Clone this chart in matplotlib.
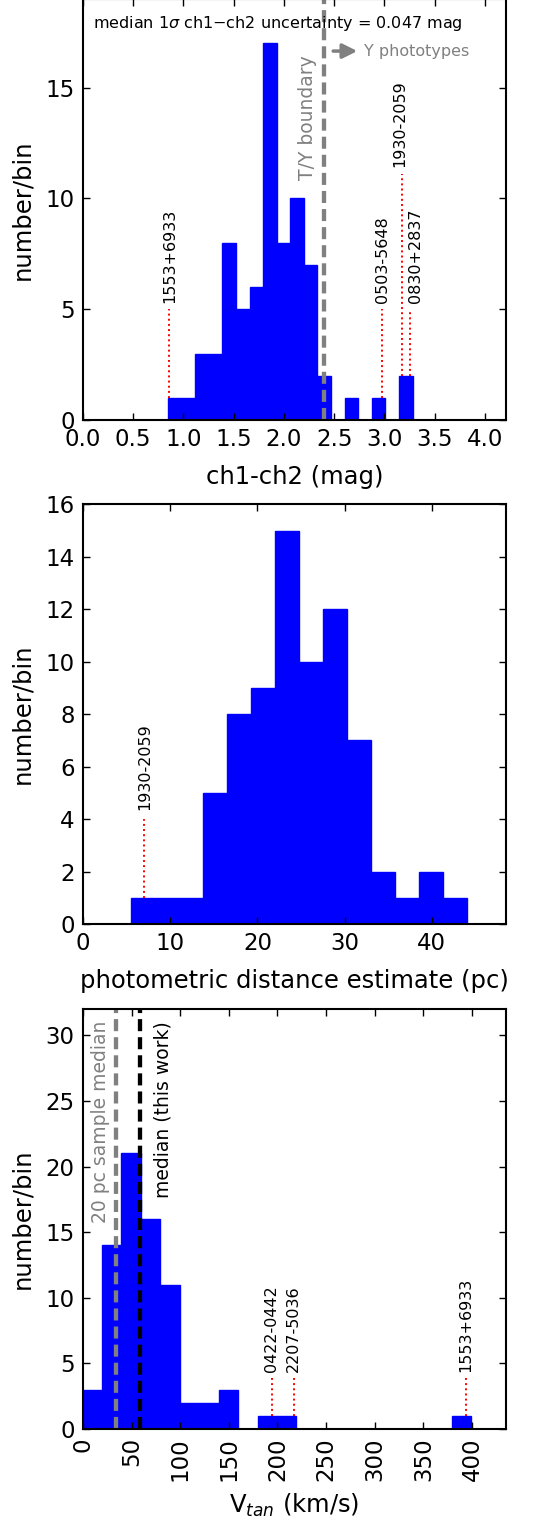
import numpy as np
import matplotlib
matplotlib.use("Agg")
import matplotlib.pyplot as plt

plt.rcParams["font.family"] = "DejaVu Sans"
plt.rcParams["mathtext.fontset"] = "dejavusans"
plt.rcParams["axes.linewidth"] = 1.5

#####################
### Data
#####################
# ch1-ch2 colour histogram (30 bins)
color_start = -0.1
color_width = 0.1352
color_counts = [0, 0, 0, 0, 0, 0, 0, 1, 1, 3, 3, 8, 5, 6, 17, 8,
                10, 7, 2, 0, 1, 0, 1, 0, 2, 0, 0, 0, 0, 0]
color_names = ["1553+6933", "0503-5648", "1930-2059", "0830+2837"]
color_obj = [0.86, 2.98, 3.17, 3.255]
color_obj_n = [1, 1, 2, 2]
color_line_top = [5, 5, 11.1, 5]
ty_boundary = 2.4
median_err = 0.047

# photometric distance histogram
dist_start = -0.06
dist_width = 2.755
dist_counts = [0, 0, 1, 1, 1, 5, 8, 9, 15, 10, 12, 7, 2, 1, 2, 1, 0, 0]
dist_names = ["1930-2059"]
dist_obj = [7.03]
dist_obj_n = [1]
dist_line_top = [4]

# tangential velocity histogram
vtan_start = -0.5
vtan_width = 20.0
vtan_counts = [3, 14, 21, 16, 11, 2, 2, 3, 0, 1, 1,
               0, 0, 0, 0, 0, 0, 0, 0, 1, 0, 0]
vtan_names = ["0422-0442", "2207-5036", "1553+6933"]
vtan_obj = [194, 216.5, 394]
vtan_obj_n = [1, 1, 1]
vtan_line_top = [3.9, 3.9, 3.9]
vtan_median_20pc = 34
vtan_median_this = 59


#####################
### Functions
#####################
def draw_hist(ax, start, width, counts):
    edges = start + width * np.arange(len(counts) + 1)
    centers = 0.5 * (edges[:-1] + edges[1:])
    ax.hist(centers, bins=edges, weights=counts, histtype="bar",
            color="blue", edgecolor="blue", linewidth=1.0)


def mark_objects(ax, names, xs, ns, tops, dy, dx=None):
    for i in range(len(names)):
        ax.plot([xs[i], xs[i]], [ns[i], tops[i]], color="red",
                linestyle=":", lw=1.4)
        xt = xs[i] if dx is None else xs[i] + dx[i]
        ax.text(xt, tops[i] + dy, names[i], rotation=90, ha="center",
                va="bottom", fontsize=11.5)


def style_axes(ax):
    ax.tick_params(direction="in", top=True, right=True, length=5,
                   width=1, labelsize=16.5, pad=6)
    ax.minorticks_off()


#####################
### Plot
#####################
W, H = 546, 1521
fig = plt.figure(figsize=(W / 100, H / 100), dpi=100)
left = 83 / W
width = 423 / W

# ax1 : ch1-ch2
ax1 = fig.add_axes([left, 1 - 420 / H, width, 421 / H])
draw_hist(ax1, color_start, color_width, color_counts)
mark_objects(ax1, color_names, color_obj, color_obj_n, color_line_top, 0.3,
             dx=[0, 0, -0.02, 0.05])
ax1.axvline(ty_boundary, color="gray", lw=3.1, dashes=(2.8, 1.4))
ax1.text(2.23, 10.85, "T/Y boundary", rotation=90, ha="center", va="bottom",
         fontsize=13.5, color="gray")
ax1.annotate("", xy=(2.73, 16.65), xytext=(2.49, 16.65),
             arrowprops=dict(arrowstyle="-|>", color="gray", lw=2.5,
                             mutation_scale=22, shrinkA=0, shrinkB=0))
ax1.text(2.80, 16.65, "Y phototypes", ha="left", va="center",
         fontsize=11.5, color="gray")
ax1.text(0.1, 17.9, "median 1$\\sigma$ ch1$-$ch2 uncertainty = %.3f mag" % median_err,
         ha="left", va="center", fontsize=11.5)
ax1.set_xlim([0, 4.21])
ax1.set_ylim([0, 19])
ax1.set_xticks(np.arange(0, 4.01, 0.5))
ax1.set_xticklabels(["%.1f" % v for v in np.arange(0, 4.01, 0.5)])
ax1.set_yticks([0, 5, 10, 15])
ax1.set_xlabel("ch1-ch2 (mag)", fontsize=17.5, labelpad=10)
ax1.set_ylabel("number/bin", fontsize=17.5, labelpad=8)
style_axes(ax1)

# ax2 : photometric distance
ax2 = fig.add_axes([left, 1 - 924 / H, width, (924 - 504.3) / H])
draw_hist(ax2, dist_start, dist_width, dist_counts)
mark_objects(ax2, dist_names, dist_obj, dist_obj_n, dist_line_top, 0.35)
ax2.set_xlim([0, 48.5])
ax2.set_ylim([0, 16])
ax2.set_xticks([0, 10, 20, 30, 40])
ax2.set_yticks(np.arange(0, 17, 2))
ax2.set_xlabel("photometric distance estimate (pc)", fontsize=17.5, labelpad=10)
ax2.set_ylabel("number/bin", fontsize=17.5, labelpad=8)
style_axes(ax2)

# ax3 : Vtan
ax3 = fig.add_axes([left, 1 - 1429 / H, width, 420 / H])
draw_hist(ax3, vtan_start, vtan_width, vtan_counts)
mark_objects(ax3, vtan_names, vtan_obj, vtan_obj_n, vtan_line_top, 0.45)
ax3.axvline(vtan_median_20pc, color="gray", lw=3.1, dashes=(2.8, 1.4))
ax3.axvline(vtan_median_this, color="black", lw=3.1, dashes=(2.8, 1.4))
ax3.text(27.5, 31.1, "20 pc sample median", rotation=90, ha="right", va="top",
         fontsize=13.5, color="gray")
ax3.text(73, 31.1, "median (this work)", rotation=90, ha="left", va="top",
         fontsize=13.5, color="black")
ax3.set_xlim([0, 435])
ax3.set_ylim([0, 32])
ax3.set_xticks(np.arange(0, 401, 50))
ax3.set_yticks(np.arange(0, 31, 5))
ax3.set_xlabel("V$_{tan}$ (km/s)", fontsize=17.5, labelpad=8)
ax3.set_ylabel("number/bin", fontsize=17.5, labelpad=8)
style_axes(ax3)
for lab in ax3.get_xticklabels():
    lab.set_rotation(90)

plt.savefig("out.png", dpi=100)
